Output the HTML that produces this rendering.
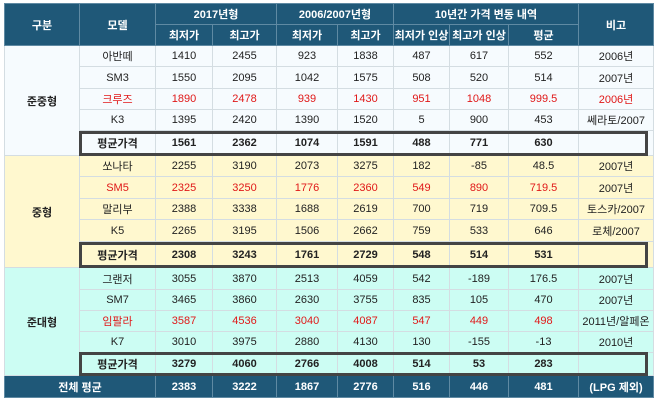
<!DOCTYPE html>
<html><head><meta charset="utf-8"><style>
body{margin:0;width:658px;height:403px;background:#fff;overflow:hidden;position:relative;font-family:"Liberation Sans","Noto Sans CJK KR",sans-serif;font-size:11px;color:#222}
table{position:absolute;left:4px;top:3px;border-collapse:collapse;table-layout:fixed}
td{border:1px solid #d4dde2;text-align:center;padding:0;overflow:hidden;white-space:nowrap}
tr.h td{background:#1f5878;color:#fff;border-color:#5f8aa3;font-weight:bold}
.s1 td{background:#f6fbfe}.s2 td{background:#fff8cf}.s3 td{background:#ccfdf3}
.r td{color:#e01818}
.b td{font-weight:bold}
tr.t td{background:#1f5878;color:#fff;font-weight:bold;border-color:#5f8aa3}
.box{position:absolute;border:3px solid #444;left:79px;width:569px;box-sizing:border-box}
</style></head><body>
<table>
<colgroup><col style="width:75px"><col style="width:76px"><col style="width:57px"><col style="width:64px"><col style="width:61px"><col style="width:56px"><col style="width:56px"><col style="width:59px"><col style="width:70px"><col style="width:75px"></colgroup>
<tr class="h" style="height:21px"><td rowspan="2">구분</td><td rowspan="2">모델</td><td colspan="2">2017년형</td><td colspan="2">2006/2007년형</td><td colspan="3">10년간 가격 변동 내역</td><td rowspan="2">비고</td></tr>
<tr class="h" style="height:21px"><td>최저가</td><td>최고가</td><td>최저가</td><td>최고가</td><td>최저가 인상</td><td>최고가 인상</td><td>평균</td></tr>
<tr class="s1" style="height:21px"><td rowspan="5" style="font-weight:bold">준중형</td><td>아반떼</td><td>1410</td><td>2455</td><td>923</td><td>1838</td><td>487</td><td>617</td><td>552</td><td>2006년</td></tr>
<tr class="s1" style="height:22px"><td>SM3</td><td>1550</td><td>2095</td><td>1042</td><td>1575</td><td>508</td><td>520</td><td>514</td><td>2007년</td></tr>
<tr class="s1 r" style="height:21px"><td>크루즈</td><td>1890</td><td>2478</td><td>939</td><td>1430</td><td>951</td><td>1048</td><td>999.5</td><td>2006년</td></tr>
<tr class="s1" style="height:21px"><td>K3</td><td>1395</td><td>2420</td><td>1390</td><td>1520</td><td>5</td><td>900</td><td>453</td><td>쎄라토/2007</td></tr>
<tr class="s1 b" style="height:25px"><td>평균가격</td><td>1561</td><td>2362</td><td>1074</td><td>1591</td><td>488</td><td>771</td><td>630</td><td></td></tr>
<tr class="s2" style="height:21px"><td rowspan="5" style="font-weight:bold">중형</td><td>쏘나타</td><td>2255</td><td>3190</td><td>2073</td><td>3275</td><td>182</td><td>-85</td><td>48.5</td><td>2007년</td></tr>
<tr class="s2 r" style="height:22px"><td>SM5</td><td>2325</td><td>3250</td><td>1776</td><td>2360</td><td>549</td><td>890</td><td>719.5</td><td style="color:#222">2007년</td></tr>
<tr class="s2" style="height:21px"><td>말리부</td><td>2388</td><td>3338</td><td>1688</td><td>2619</td><td>700</td><td>719</td><td>709.5</td><td>토스카/2007</td></tr>
<tr class="s2" style="height:22px"><td>K5</td><td>2265</td><td>3195</td><td>1506</td><td>2662</td><td>759</td><td>533</td><td>646</td><td>로체/2007</td></tr>
<tr class="s2 b" style="height:26px"><td>평균가격</td><td>2308</td><td>3243</td><td>1761</td><td>2729</td><td>548</td><td>514</td><td>531</td><td></td></tr>
<tr class="s3" style="height:22px"><td rowspan="5" style="font-weight:bold">준대형</td><td>그랜저</td><td>3055</td><td>3870</td><td>2513</td><td>4059</td><td>542</td><td>-189</td><td>176.5</td><td>2007년</td></tr>
<tr class="s3" style="height:21px"><td>SM7</td><td>3465</td><td>3860</td><td>2630</td><td>3755</td><td>835</td><td>105</td><td>470</td><td>2007년</td></tr>
<tr class="s3 r" style="height:21px"><td>임팔라</td><td>3587</td><td>4536</td><td>3040</td><td>4087</td><td>547</td><td>449</td><td>498</td><td style="color:#222">2011년/알페온</td></tr>
<tr class="s3" style="height:21px"><td>K7</td><td>3010</td><td>3975</td><td>2880</td><td>4130</td><td>130</td><td>-155</td><td>-13</td><td>2010년</td></tr>
<tr class="s3 b" style="height:23px"><td>평균가격</td><td>3279</td><td>4060</td><td>2766</td><td>4008</td><td>514</td><td>53</td><td>283</td><td></td></tr>
<tr class="t" style="height:22px"><td colspan="2">전체 평균</td><td>2383</td><td>3222</td><td>1867</td><td>2776</td><td>516</td><td>446</td><td>481</td><td>(LPG 제외)</td></tr>
</table>
<div class="box" style="top:131px;height:25px"></div>
<div class="box" style="top:242px;height:26px"></div>
<div class="box" style="top:352px;height:24px"></div>
</body></html>
